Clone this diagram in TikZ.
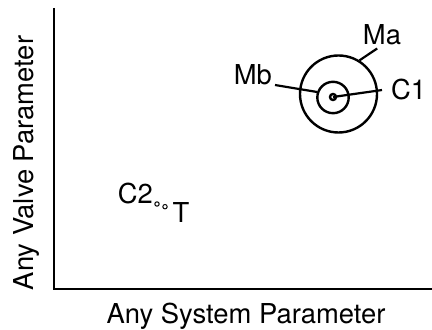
\documentclass[tikz,border=0pt]{standalone}
\usepackage{fontspec}
\setmainfont{TeX Gyre Heros}

\begin{document}
\begin{tikzpicture}[x=0.5pt, y=-0.5pt, line width=1.1pt,
  lbl/.style={font=\fontsize{13.7}{16}\selectfont, inner sep=1pt},
  ring/.style={draw, circle, line width=1.2pt, inner sep=0pt},
  dot/.style={draw, circle, line width=0.5pt, inner sep=0pt, minimum size=2.2pt}]
  \useasboundingbox (0,0) rectangle (432,330);

  % axes
  \coordinate (Ytop) at (54,8);
  \coordinate (O)    at (54,289);
  \coordinate (Xend) at (432,289);
  \draw[line width=1.4pt] (Ytop) -- (O) -- (Xend);

  % point C1 with its two rings
  \node[ring, minimum size=38.5pt] (ringMa) at (338.5,94) {};
  \node[ring, minimum size=15.7pt] (ringMb) at (333,97.5) {};
  \node[ring, minimum size=3pt]    (ptC1)   at (333,97) {};

  % points C2 and T
  \node[dot] (ptC2) at (157,204) {};
  \node[dot] (ptT)  at (165,206.7) {};

  % labels
  \node[lbl, anchor=base]                    (labMa) at (382,45)    {Ma};
  \node[lbl, anchor=base east]               (labMb) at (275,85)    {Mb};
  \node[lbl, anchor=base west, inner sep=4pt] (labC1) at (382,100)  {C1};
  \node[lbl, anchor=base east, inner sep=0pt] (labC2) at (154,203.5) {C2};
  \node[lbl, anchor=north west, inner sep=0pt] (labT) at (171.5,201) {T};
  \node[lbl, anchor=base]            (xlab) at (246,323) {Any System Parameter};
  \node[lbl, anchor=base, rotate=90] (ylab) at (33,163)  {Any Valve Parameter};

  % leader lines
  \draw (ringMa.58) -- (labMa.250);
  \draw (labMb.base east) -- (ringMb.161);
  \draw (ptC1.center) -- (labC1.west);
\end{tikzpicture}
\end{document}
